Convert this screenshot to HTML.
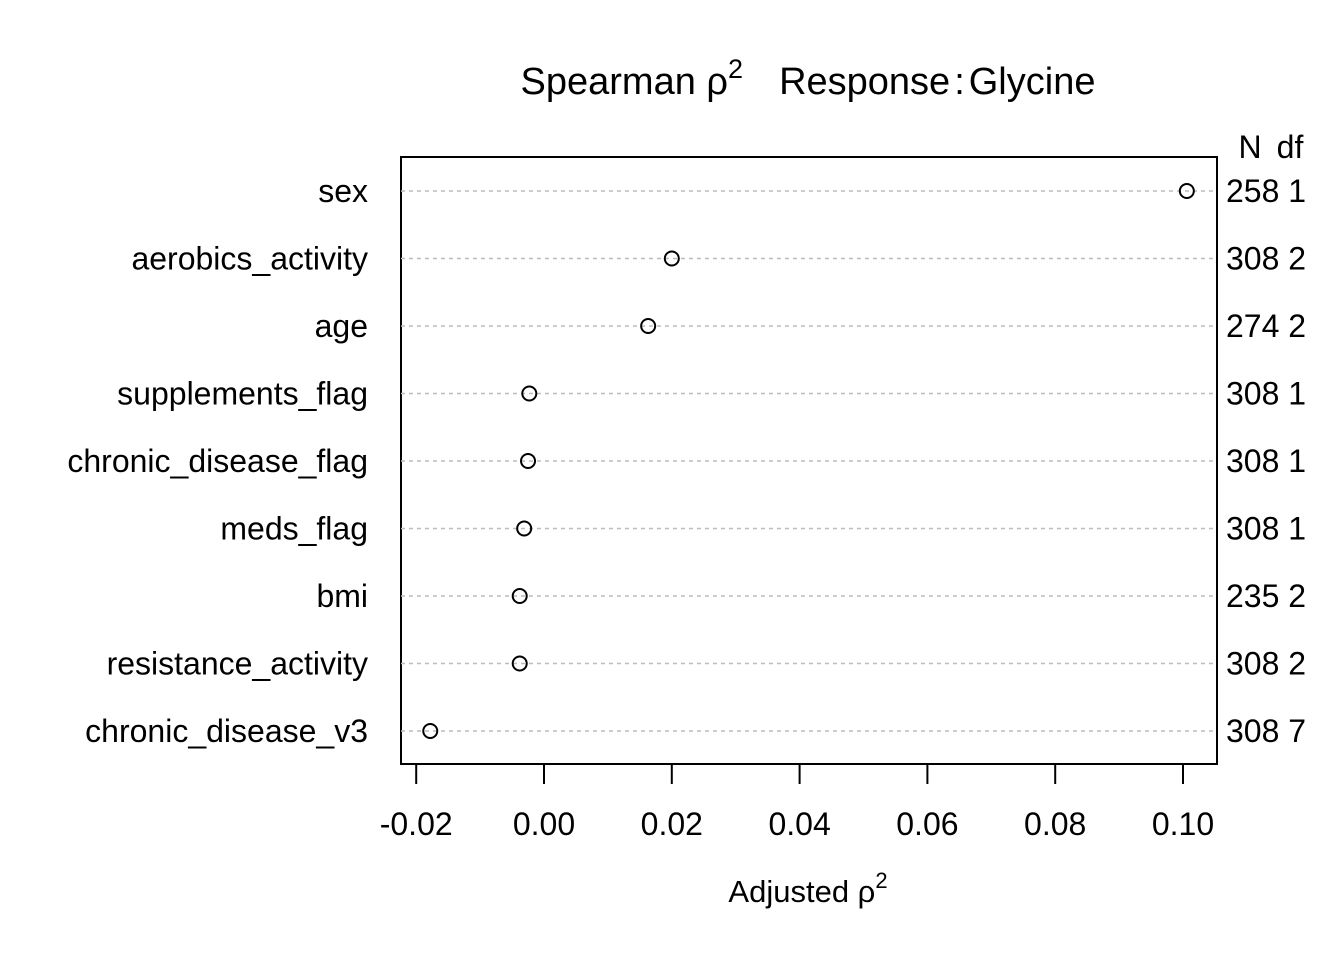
<!DOCTYPE html>
<html><head><meta charset="utf-8"><style>body{margin:0;background:#fff}svg{display:block}text{font-family:"Liberation Sans",Arial,sans-serif;fill:#000}</style></head>
<body>
<svg id="chart" width="1344" height="960" viewBox="0 0 1344 960">
<text x="808" y="94" font-size="38" text-anchor="middle">Spearman ρ<tspan dy="-16" font-size="27">2</tspan><tspan dy="16" dx="36">Response</tspan><tspan dx="4">:</tspan><tspan dx="4">Glycine</tspan></text>
<rect x="401" y="157" width="816" height="607" fill="none" stroke="#000" stroke-width="2"/>
<text x="1250" y="158" font-size="32" text-anchor="middle">N</text>
<text x="1290" y="158" font-size="32" text-anchor="middle">df</text>
<g id="rows"></g><g id="axis"></g>
<text x="808" y="902" font-size="31" text-anchor="middle">Adjusted ρ<tspan dy="-14" font-size="22">2</tspan></text>
</svg>
<script>
const categories=["sex","aerobics_activity","age","supplements_flag","chronic_disease_flag","meds_flag","bmi","resistance_activity","chronic_disease_v3"];
const values=[0.1006,0.0200,0.0163,-0.0023,-0.0025,-0.0031,-0.0038,-0.0038,-0.0178];
const nValues=[258,308,274,308,308,308,235,308,308];
const dfValues=[1,2,2,1,1,1,2,2,7];
const ticks=[-0.02,0,0.02,0.04,0.06,0.08,0.10];
const tickLabels=["-0.02","0.00","0.02","0.04","0.06","0.08","0.10"];
const NS="http://www.w3.org/2000/svg";
const x=v=>544+v*6390;
const y=i=>191+i*67.5;
function mk(tag,at,parent,txt){const e=document.createElementNS(NS,tag);for(const k in at)e.setAttribute(k,at[k]);if(txt!==undefined)e.textContent=txt;parent.appendChild(e);return e;}
const rows=document.getElementById('rows'),axis=document.getElementById('axis');
categories.forEach((c,i)=>{
 const l=mk('line',{x1:401,x2:1217,y1:y(i),y2:y(i),stroke:'#bbb','stroke-width':1.5,'stroke-dasharray':'4,4'},rows);
 
 
 const t=mk('text',{x:368,y:y(i)+11,'font-size':32,'text-anchor':'end'},rows,c);
 
 
 const p=mk('circle',{cx:x(values[i]),cy:y(i),r:7,fill:'none',stroke:'#000','stroke-width':2},rows);
 
 
 const s=mk('text',{x:1226,y:y(i)+11,'font-size':32},rows,nValues[i]+' '+dfValues[i]);
 
 
});
mk('line',{x1:x(ticks[0]),x2:x(ticks[ticks.length-1]),y1:764,y2:764,stroke:'#000','stroke-width':2},axis);
ticks.forEach((v,i)=>{
 const tk=mk('line',{x1:x(v),x2:x(v),y1:764,y2:784,stroke:'#000','stroke-width':2},axis);
 
 
 const tl=mk('text',{x:x(v),y:835,'font-size':32,'text-anchor':'middle'},axis,tickLabels[i]);
 
 
});
</script>
</body></html>
